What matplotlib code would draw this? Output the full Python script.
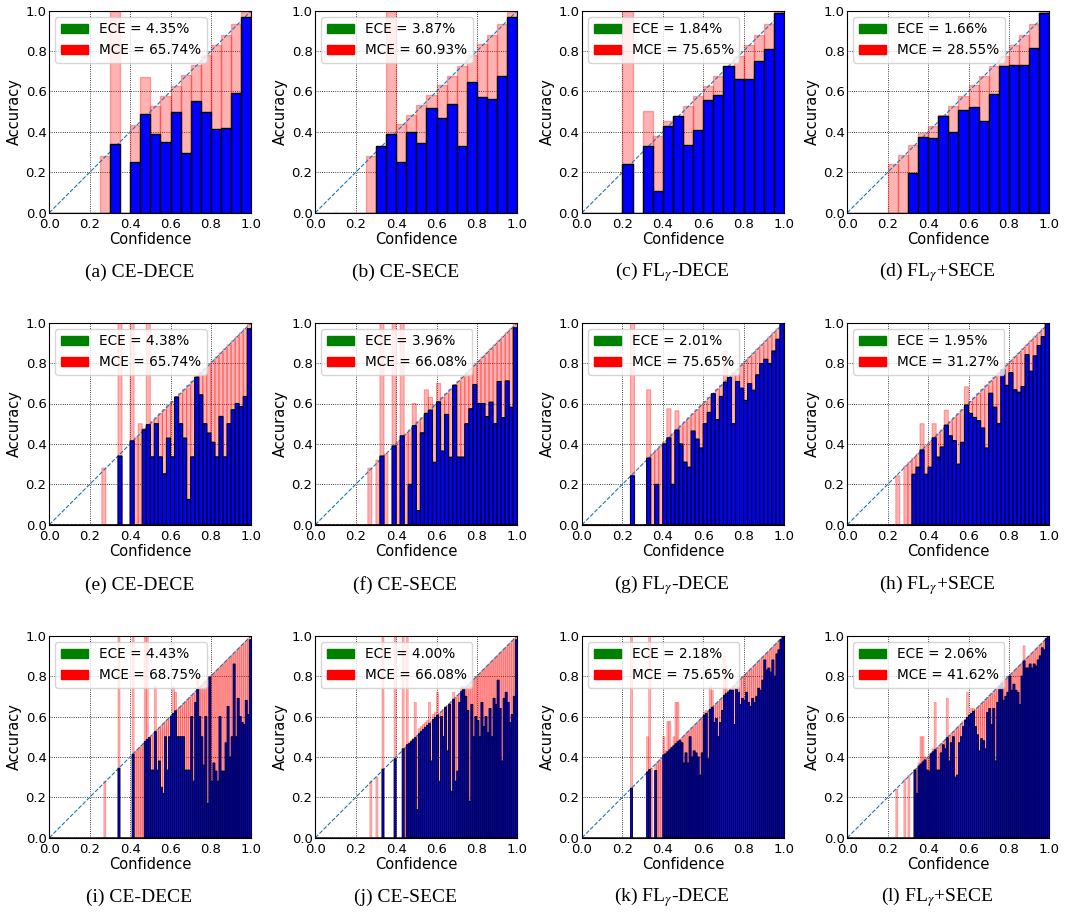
import matplotlib
matplotlib.use("Agg")
import matplotlib.pyplot as plt
import matplotlib.patches as mpatches
import numpy as np

plt.rcParams["mathtext.fontset"] = "stix"

## captions and metrics, one per panel (row by row)
captions = ["(a) CE-DECE", "(b) CE-SECE", "(c) FL$_\\gamma$-DECE", "(d) FL$_\\gamma$+SECE",
            "(e) CE-DECE", "(f) CE-SECE", "(g) FL$_\\gamma$-DECE", "(h) FL$_\\gamma$+SECE",
            "(i) CE-DECE", "(j) CE-SECE", "(k) FL$_\\gamma$-DECE", "(l) FL$_\\gamma$+SECE"]
ece_txt = ["4.35%", "3.87%", "1.84%", "1.66%",
           "4.38%", "3.96%", "2.01%", "1.95%",
           "4.43%", "4.00%", "2.18%", "2.06%"]
mce_txt = ["65.74%", "60.93%", "75.65%", "28.55%",
           "65.74%", "66.08%", "75.65%", "31.27%",
           "68.75%", "66.08%", "75.65%", "41.62%"]

## row 1: 20 bins
acc_a = [0, 0, 0, 0, 0, 0, 1.0, 0, 0.25, 0.671,
         0.392, 0.349, 0.50, 0.294, 0.554, 0.50, 0.415, 0.418, 0.595, 0.967]
conf_a = [0, 0, 0, 0, 0, 0.28, 0.342, 0, 0.433, 0.488,
          0.529, 0.58, 0.628, 0.68, 0.73, 0.78, 0.828, 0.879, 0.932, 0.995]
acc_b = [0, 0, 0, 0, 0, 0, 0.331, 1.0, 0.25, 0.40,
         0.347, 0.519, 0.469, 0.539, 0.332, 0.645, 0.574, 0.565, 0.678, 0.97]
conf_b = [0, 0, 0, 0, 0, 0.28, 0.328, 0.392, 0.438, 0.486,
          0.532, 0.582, 0.631, 0.676, 0.727, 0.78, 0.833, 0.879, 0.932, 0.995]
acc_c = [0, 0, 0, 0, 1.0, 0, 0.502, 0.109, 0.428, 0.481,
         0.337, 0.41, 0.56, 0.582, 0.726, 0.664, 0.664, 0.75, 0.81, 0.987]
conf_c = [0, 0, 0, 0, 0.243, 0, 0.332, 0.378, 0.456, 0.478,
          0.529, 0.579, 0.626, 0.678, 0.724, 0.775, 0.83, 0.879, 0.932, 0.995]
acc_d = [0, 0, 0, 0, 0, 0, 0.198, 0.377, 0.369, 0.484,
         0.398, 0.507, 0.524, 0.456, 0.587, 0.724, 0.729, 0.729, 0.817, 0.99]
conf_d = [0, 0, 0, 0, 0.241, 0.288, 0.337, 0.397, 0.428, 0.478,
          0.529, 0.58, 0.631, 0.678, 0.726, 0.777, 0.83, 0.879, 0.932, 0.995]

## row 2: 50 bins
acc_e = [0, 0, 0, 0, 0, 0, 0, 0, 0, 0,
         0, 0, 0, 0, 0, 0, 0, 1.0, 0, 0,
         1.0, 0, 0, 0.475, 1.0, 0.336, 0.5, 0.336, 0.252, 0.429,
         0.336, 0.635, 0.5, 0.429, 0.125, 0.336, 0.733, 0.643, 0.5, 0.454,
         0.408, 0.336, 0.536, 0.336, 0.5, 0.569, 0.60, 0.585, 0.635, 0.97]
conf_e = [0, 0, 0, 0, 0, 0, 0, 0, 0, 0,
          0, 0, 0, 0.28, 0, 0, 0, 0.34, 0, 0,
          0.415, 0.43, 0.5, 0.47, 0.495, 0.51, 0.53, 0.55, 0.57, 0.59,
          0.61, 0.632, 0.65, 0.67, 0.69, 0.71, 0.73, 0.75, 0.77, 0.79,
          0.81, 0.83, 0.85, 0.87, 0.89, 0.91, 0.93, 0.95, 0.97, 0.995]
acc_f = [0, 0, 0, 0, 0, 0, 0, 0, 0, 0,
         0, 0, 0, 0, 0, 0, 1.0, 0, 0, 1.0,
         0, 1.0, 0, 0.2, 0.6, 0.07, 0.455, 0.668, 0.63, 0.309,
         0.70, 0.365, 0.546, 0.334, 0.694, 0.335, 0.335, 0.5, 0.574, 0.694,
         0.6, 0.6, 0.535, 0.607, 0.5, 0.709, 0.53, 0.712, 0.582, 0.975]
conf_f = [0, 0, 0, 0, 0, 0, 0, 0, 0, 0,
          0, 0, 0, 0.28, 0, 0.32, 0.34, 0.35, 0, 0.39,
          0.41, 0.44, 0.45, 0.47, 0.49, 0.51, 0.53, 0.551, 0.567, 0.59,
          0.608, 0.63, 0.65, 0.67, 0.69, 0.71, 0.73, 0.75, 0.77, 0.79,
          0.81, 0.83, 0.85, 0.87, 0.89, 0.91, 0.93, 0.95, 0.97, 0.995]
acc_g = [0, 0, 0, 0, 0, 0, 0, 0, 0, 0,
         0, 0, 1.0, 0, 0, 0, 0.668, 0, 0.2, 0,
         0.4, 0.574, 0.2, 0.564, 0.4, 0.31, 0.285, 0.464, 0.424, 0.38,
         0.5, 0.556, 0.648, 0.52, 0.635, 0.86, 0.73, 0.5, 0.709, 0.676,
         0.615, 0.699, 0.666, 0.742, 0.798, 0.819, 0.798, 0.86, 0.918, 0.995]
conf_g = [0, 0, 0, 0, 0, 0, 0, 0, 0, 0,
          0, 0, 0.242, 0, 0, 0, 0.33, 0.35, 0.37, 0.39,
          0.41, 0.43, 0.45, 0.469, 0.49, 0.51, 0.53, 0.55, 0.57, 0.59,
          0.61, 0.63, 0.65, 0.67, 0.69, 0.705, 0.728, 0.75, 0.77, 0.79,
          0.81, 0.83, 0.85, 0.87, 0.89, 0.91, 0.93, 0.95, 0.97, 0.999]
acc_h = [0, 0, 0, 0, 0, 0, 0, 0, 0, 0,
         0, 0, 0, 0, 0, 0, 0.25, 0.285, 0.5, 0.25,
         0.285, 0.5, 0.335, 0.385, 0.567, 0.44, 0.416, 0.30, 0.408, 0.683,
         0.551, 0.531, 0.515, 0.479, 0.38, 0.651, 0.582, 0.5, 0.77, 0.69,
         0.753, 0.668, 0.656, 0.684, 0.842, 0.76, 0.836, 0.887, 0.931, 0.995]
conf_h = [0, 0, 0, 0, 0, 0, 0, 0, 0, 0,
          0, 0, 0.243, 0, 0.29, 0.31, 0.33, 0.35, 0.37, 0.39,
          0.41, 0.43, 0.45, 0.47, 0.493, 0.51, 0.53, 0.55, 0.57, 0.592,
          0.61, 0.63, 0.65, 0.67, 0.69, 0.71, 0.73, 0.75, 0.768, 0.79,
          0.81, 0.83, 0.85, 0.87, 0.89, 0.91, 0.93, 0.95, 0.97, 0.999]

## row 3: 100 bins
acc_i = [0, 0, 0, 0, 0, 0, 0, 0, 0, 0,
         0, 0, 0, 0, 0, 0, 0, 0, 0, 0,
         0, 0, 0, 0, 0, 0, 0, 0, 0, 0,
         0, 0, 0, 0, 1.0, 0, 0, 0, 0, 0,
         0, 1.0, 0, 0, 0, 0, 0, 1.0, 1.0, 0.496,
         0.335, 0.335, 0.75, 0.335, 0.38, 0.25, 0.22, 0.50, 0.335, 0.50,
         0.60, 0.75, 0.72, 0.50, 0.50, 0.50, 0.50, 0.335, 0.335, 0.335,
         0.60, 0.28, 0.67, 0.80, 0.60, 0.50, 0.36, 0.60, 0.17, 0.80,
         0.28, 0.37, 0.33, 0.28, 0.60, 0.33, 0.33, 0.47, 0.65, 0.40,
         0.50, 0.86, 0.50, 0.69, 0.60, 0.57, 0.56, 0.68, 0.61, 0.98]
conf_i = [0, 0, 0, 0, 0, 0, 0, 0, 0, 0,
          0, 0, 0, 0, 0, 0, 0, 0, 0, 0,
          0, 0, 0, 0, 0, 0, 0, 0.28, 0, 0,
          0, 0, 0, 0, 0.344, 0, 0, 0, 0, 0,
          0, 0.413, 0.425, 0.435, 0.445, 0.455, 0.465, 0.476, 0.486, 0.495,
          0.505, 0.515, 0.525, 0.535, 0.545, 0.555, 0.565, 0.575, 0.585, 0.595,
          0.605, 0.615, 0.628, 0.635, 0.645, 0.655, 0.665, 0.675, 0.685, 0.695,
          0.705, 0.715, 0.725, 0.735, 0.745, 0.755, 0.765, 0.775, 0.785, 0.795,
          0.805, 0.815, 0.825, 0.835, 0.845, 0.855, 0.865, 0.875, 0.885, 0.895,
          0.905, 0.915, 0.925, 0.935, 0.945, 0.955, 0.965, 0.975, 0.985, 0.995]
acc_j = [0, 0, 0, 0, 0, 0, 0, 0, 0, 0,
         0, 0, 0, 0, 0, 0, 0, 0, 0, 0,
         0, 0, 0, 0, 0, 0, 0, 0, 0, 0,
         0, 0, 0, 1.0, 0, 0, 0, 0, 0, 1.0,
         0, 0, 0, 1.0, 0, 1.0, 0.47, 0.48, 0.49, 0.67,
         0.14, 0.54, 0.55, 0.56, 0.57, 0.58, 0.67, 0.38, 0.61, 0.62,
         0.72, 0.28, 0.60, 0.50, 0.65, 0.43, 0.66, 0.23, 0.72, 0.28,
         0.33, 0.67, 0.75, 0.75, 0.70, 0.63, 0.18, 0.66, 0.50, 0.60,
         0.58, 0.50, 0.67, 0.55, 0.60, 0.52, 0.64, 0.50, 0.69, 0.66,
         0.78, 0.64, 0.38, 0.69, 0.72, 0.67, 0.57, 0.61, 0.70, 0.98]
conf_j = [0, 0, 0, 0, 0, 0, 0, 0, 0, 0,
          0, 0, 0, 0, 0, 0, 0, 0, 0, 0,
          0, 0, 0, 0, 0, 0, 0, 0.28, 0, 0,
          0.30, 0, 0, 0.34, 0, 0, 0, 0, 0, 0.39,
          0, 0, 0, 0.44, 0.445, 0.46, 0.465, 0.475, 0.485, 0.495,
          0.505, 0.515, 0.525, 0.535, 0.545, 0.555, 0.565, 0.575, 0.585, 0.595,
          0.605, 0.615, 0.625, 0.635, 0.645, 0.655, 0.665, 0.675, 0.685, 0.695,
          0.705, 0.715, 0.725, 0.735, 0.745, 0.755, 0.765, 0.775, 0.785, 0.795,
          0.805, 0.815, 0.825, 0.835, 0.845, 0.855, 0.865, 0.875, 0.885, 0.895,
          0.905, 0.915, 0.925, 0.935, 0.945, 0.955, 0.965, 0.975, 0.985, 0.995]
acc_k = [0, 0, 0, 0, 0, 0, 0, 0, 0, 0,
         0, 0, 0, 0, 0, 0, 0, 0, 0, 0,
         0, 0, 0, 0, 1.0, 0, 0, 0, 0, 0,
         0, 0, 0.5, 1.0, 0, 0, 0.333, 0, 0, 0,
         0.5, 0.43, 0.575, 0.575, 0.45, 0.5, 0.67, 0.67, 0.48, 0.47,
         0.37, 0.42, 0.37, 0.5, 0.40, 0.43, 0.42, 0.40, 0.31, 0.42,
         0.62, 0.63, 0.39, 0.75, 0.73, 0.57, 0.59, 0.50, 0.57, 0.63,
         0.90, 0.85, 0.72, 0.73, 0.73, 0.56, 0.74, 0.72, 0.66, 0.69,
         0.68, 0.72, 0.67, 0.65, 0.69, 0.67, 0.70, 0.74, 0.73, 0.78,
         0.88, 0.83, 0.84, 0.82, 0.88, 0.80, 0.91, 0.93, 0.98, 0.995]
conf_k = [0, 0, 0, 0, 0, 0, 0, 0, 0, 0,
          0, 0, 0, 0, 0, 0, 0, 0, 0, 0,
          0, 0, 0, 0, 0.245, 0, 0, 0, 0, 0,
          0, 0, 0.326, 0.337, 0.345, 0, 0.365, 0.375, 0.385, 0.395,
          0.41, 0.415, 0.425, 0.435, 0.445, 0.455, 0.465, 0.475, 0.485, 0.495,
          0.505, 0.515, 0.525, 0.535, 0.545, 0.555, 0.565, 0.575, 0.585, 0.595,
          0.605, 0.615, 0.625, 0.635, 0.645, 0.655, 0.665, 0.675, 0.685, 0.695,
          0.705, 0.715, 0.725, 0.735, 0.745, 0.755, 0.765, 0.775, 0.785, 0.795,
          0.805, 0.815, 0.825, 0.835, 0.845, 0.855, 0.865, 0.875, 0.885, 0.895,
          0.905, 0.915, 0.925, 0.935, 0.945, 0.955, 0.965, 0.975, 0.985, 0.998]
acc_l = [0, 0, 0, 0, 0, 0, 0, 0, 0, 0,
         0, 0, 0, 0, 0, 0, 0, 0, 0, 0,
         0, 0, 0, 0, 0, 0, 0, 0, 0, 0,
         0, 0, 0, 0.335, 0.22, 0.37, 0.5, 0.5, 0.40, 0.335,
         0.33, 0.42, 0.44, 0.67, 0.335, 0.335, 0.42, 0.46, 0.44, 0.69,
         0.38, 0.47, 0.50, 0.30, 0.31, 0.47, 0.50, 0.55, 0.58, 0.72,
         0.61, 0.64, 0.64, 0.55, 0.51, 0.43, 0.49, 0.48, 0.44, 0.62,
         0.64, 0.56, 0.64, 0.38, 0.67, 0.75, 0.78, 0.68, 0.70, 0.72,
         0.80, 0.73, 0.76, 0.73, 0.72, 0.66, 0.80, 0.95, 0.84, 0.84,
         0.86, 0.84, 0.86, 0.85, 0.88, 0.90, 0.94, 0.93, 0.99, 0.995]
conf_l = [0, 0, 0, 0, 0, 0, 0, 0, 0, 0,
          0, 0, 0, 0, 0, 0, 0, 0, 0, 0,
          0, 0, 0, 0, 0.241, 0, 0, 0, 0.29, 0,
          0.31, 0, 0, 0.335, 0.345, 0.355, 0.365, 0.375, 0.385, 0.395,
          0.405, 0.415, 0.425, 0.435, 0.445, 0.455, 0.465, 0.475, 0.485, 0.495,
          0.505, 0.515, 0.525, 0.535, 0.545, 0.555, 0.565, 0.575, 0.585, 0.595,
          0.605, 0.615, 0.625, 0.635, 0.645, 0.655, 0.665, 0.675, 0.685, 0.695,
          0.705, 0.715, 0.725, 0.735, 0.745, 0.755, 0.765, 0.775, 0.785, 0.795,
          0.805, 0.815, 0.825, 0.835, 0.845, 0.855, 0.865, 0.875, 0.885, 0.895,
          0.905, 0.915, 0.925, 0.935, 0.945, 0.955, 0.965, 0.975, 0.985, 0.998]

accs = [acc_a, acc_b, acc_c, acc_d, acc_e, acc_f, acc_g, acc_h, acc_i, acc_j, acc_k, acc_l]
confs = [conf_a, conf_b, conf_c, conf_d, conf_e, conf_f, conf_g, conf_h, conf_i, conf_j, conf_k, conf_l]


def rel_diagram_sub(ax, acc, conf, ece, mce):
    acc = np.array(acc, dtype=float)
    conf = np.array(conf, dtype=float)
    M = len(acc)
    bin_size = 1.0 / M
    positions = np.arange(M) * bin_size + bin_size / 2
    gap = np.maximum(acc, conf)
    outputs = np.minimum(acc, conf)
    # thinner, unsnapped edges for the finer binnings
    lw = {20: 1.0, 50: 0.8}.get(M, 0.6)
    snap = M <= 20
    ax.bar(positions, gap, width=bin_size, color="red", edgecolor="red",
           alpha=0.3, linewidth=lw, zorder=2, snap=snap)
    ax.bar(positions, outputs, width=bin_size, color="blue", edgecolor="black",
           linewidth=lw, zorder=3, snap=snap)
    ax.plot([0, 1], [0, 1], linestyle="--", linewidth=0.8, zorder=2)
    ax.set_xlim(0, 1)
    ax.set_ylim(0, 1)
    ax.set_aspect("equal")
    ax.set_xticks(np.linspace(0, 1, 6))
    ax.set_yticks(np.linspace(0, 1, 6))
    ax.tick_params(axis="x", labelsize=9.5, length=0, pad=3.5)
    ax.tick_params(axis="y", labelsize=9.5, length=0, pad=2)
    ax.grid(color="black", linestyle=":", linewidth=0.6)
    ax.set_xlabel("Confidence", fontsize=10.5, labelpad=1)
    ax.set_ylabel("Accuracy", fontsize=10.5, labelpad=2.5)
    h1 = mpatches.Patch(color="green", label="ECE = " + ece)
    h2 = mpatches.Patch(color="red", label="MCE = " + mce)
    ax.legend(handles=[h1, h2], loc="upper left", fontsize=9.8,
              handlelength=2.0, borderaxespad=0.45)


W, H = 1065, 914
fig = plt.figure(figsize=(W / 100, H / 100), dpi=100)

lefts = [49.3, 315.3, 582.0, 847.3]
tops = [10.7, 322.7, 635.7]
cap_y = [272, 585, 897]
size = 202

for k in range(12):
    r, c = divmod(k, 4)
    ax = fig.add_axes([lefts[c] / W, 1 - (tops[r] + size) / H, size / W, size / H])
    rel_diagram_sub(ax, accs[k], confs[k], ece_txt[k], mce_txt[k])
    fig.text((lefts[c] + size / 2 - 11) / W, 1 - cap_y[r] / H, captions[k],
             ha="center", va="center", fontsize=14, family="Liberation Serif")

fig.savefig("out.png", dpi=100)
